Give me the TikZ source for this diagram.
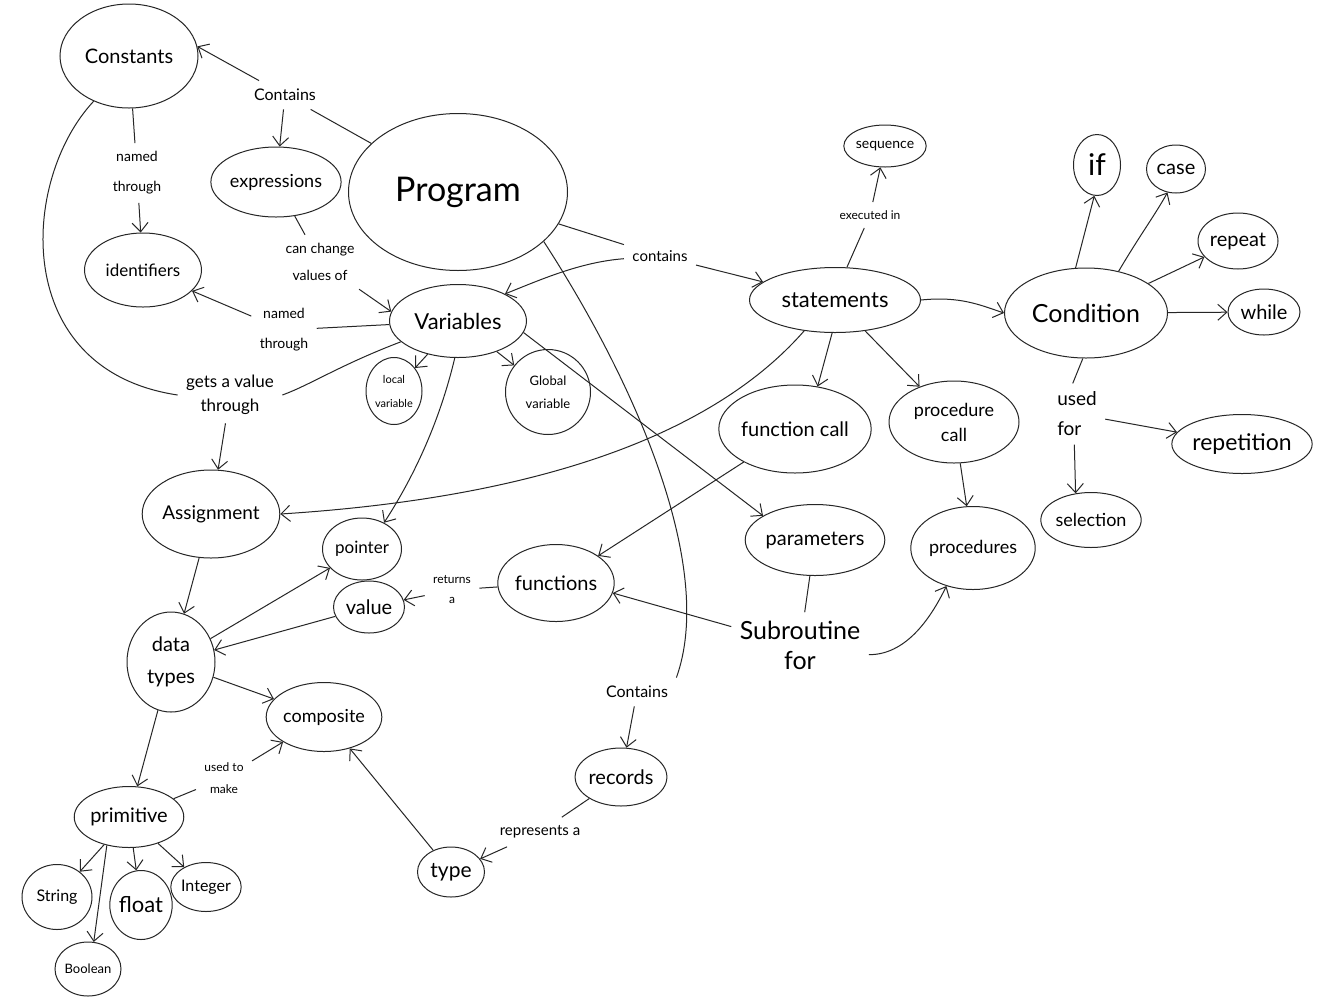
\documentclass[tikz,border=0pt]{standalone}
\usepackage{fontspec}
\setmainfont{Lato}
\usetikzlibrary{shapes.geometric,arrows.meta}
\newcommand\hw[2]{\fontsize{#1}{#2}\selectfont}
\begin{document}
\begin{tikzpicture}[x=0.5pt,y=-0.5pt,line width=0.5pt,draw=black!85,
  blob/.style 2 args={ellipse,draw,inner sep=0pt,align=center,
    minimum width=#1*0.5pt,minimum height=#2*0.5pt},
  lbl/.style={align=center,inner sep=4pt},
  arr/.style={-{Straight Barb[length=4.5pt,width=8pt]}}]
\fill[white] (0,0) rectangle (1322,1002);
\useasboundingbox (0,0) rectangle (1322,1002);

% concepts
\node[blob={138}{104},font=\hw{10}{12}] (const) at (129,56) {Constants};
\node[blob={114}{70},font=\hw{9}{11}] (expr) at (276,182) {expressions};
\node[blob={219}{157},font=\hw{17}{20}] (prog) at (458,192) {Program};
\node[blob={117}{74},font=\hw{8.5}{10}] (ident) at (143,270) {identifiers};
\node[blob={137}{73},font=\hw{11}{13}] (var) at (458,321) {Variables};
\node[blob={56}{67},font=\hw{5.5}{12}] (local) at (394,391) {local\\variable};
\node[blob={85}{85},font=\hw{6.5}{11.5}] (global) at (548,392) {Global\\variable};
\node[blob={133}{88},font=\hw{9.5}{12}] (assign) at (211,514) {Assignment};
\node[blob={79}{62},font=\hw{8.5}{10}] (pointer) at (362,549) {pointer};
\node[blob={71}{52},font=\hw{10}{12}] (value) at (369,607) {value};
\node[blob={115}{77},font=\hw{10}{12}] (func) at (556,583) {functions};
\node[blob={88}{100},font=\hw{10}{16}] (dtypes) at (171,662) {data\\types};
\node[blob={115}{69},font=\hw{9}{11}] (comp) at (324,717) {composite};
\node[blob={106}{61},font=\hw{10}{12}] (prim) at (129,817) {primitive};
\node[blob={70}{65},font=\hw{8}{10}] (string) at (57,897) {String};
\node[blob={66}{54},font=\hw{6.5}{8}] (bool) at (88,969) {Boolean};
\node[blob={58}{69},font=\hw{11}{13}] (float) at (141,905) {float};
\node[blob={64}{49},font=\hw{8}{10}] (integer) at (206,887) {Integer};
\node[blob={67}{50},font=\hw{10.5}{12}] (type) at (451,872) {type};
\node[blob={90}{58},font=\hw{10}{12}] (records) at (621,777) {records};
\node[blob={139}{71},font=\hw{10}{12}] (param) at (815,540) {parameters};
\node[blob={117}{83},font=\hw{9}{11}] (procs) at (973,548) {procedures};
\node[blob={146}{88},font=\hw{10}{12}] (fcall) at (795,429) {function call};
\node[blob={130}{82},font=\hw{9}{12.5}] (pcall) at (954,422) {procedure\\call};
\node[blob={171}{65},font=\hw{11}{13}] (stmt) at (835,300) {statements};
\node[blob={74}{42},font=\hw{7}{9}] (seq) at (885,146) {sequence};
\node[blob={163}{90},font=\hw{12.5}{15}] (cond) at (1086,313) {Condition};
\node[blob={47}{61},font=\hw{15}{17}] (if) at (1097,165) {if};
\node[blob={59}{48},font=\hw{10}{12}] (case) at (1176,169) {case};
\node[blob={80}{56},font=\hw{10}{12}] (repeat) at (1238,241) {repeat};
\node[blob={72}{46},font=\hw{10}{12}] (while) at (1264,312) {while};
\node[blob={130}{59},font=\hw{11.5}{14}] (rep) at (1242,444) {repetition};
\node[blob={94}{55},font=\hw{9}{11}] (sel) at (1091,520) {selection};

% link phrases
\node[lbl,font=\hw{8}{10}] (has1) at (285,95) {Contains};
\node[lbl,font=\hw{7}{15}] (named1) at (137,173) {named\\through};
\node[lbl,font=\hw{7}{13.5}] (canchange) at (320,262) {can change\\values of};
\node[lbl,font=\hw{7}{15}] (named2) at (284,330) {named\\through};
\node[lbl,font=\hw{8.5}{12}] (gets) at (230,395) {gets a value\\through};
\node[lbl,font=\hw{7.5}{9}] (has2) at (660,256) {contains};
\node[lbl,font=\hw{8}{10}] (has3) at (637,692) {Contains};
\node[lbl,font=\hw{6}{8}] (exec) at (870,215) {executed in};
\node[lbl,align=left,font=\hw{9.5}{15}] (usedfor) at (1077,414) {used\\for};
\node[lbl,font=\hw{12.5}{15}] (sub) at (800,645) {Subroutine\\for};
\node[lbl,font=\hw{6}{10}] (returns) at (452,590) {returns\\a};
\node[lbl,font=\hw{6}{11}] (usedto) at (224,778) {used to\\make};
\node[lbl,font=\hw{7.5}{9}] (repr) at (540,832) {represents a};

% connections
\draw (prog) -- (has1);
\draw[arr] (has1) -- (const.8);
\draw[arr] (has1) -- (expr);
\draw (const) -- (named1);
\draw[arr] (named1) -- (ident);
\draw (const.232) .. controls (20,180) and (10,370) .. (gets.west);
\draw (var.200) .. controls (340,365) and (310,385) .. (gets.east);
\draw[arr] (gets) -- (assign);
\draw (expr) -- (canchange);
\draw[arr] (canchange) -- (var.172);
\draw (var) -- (named2);
\draw[arr] (named2) -- (ident);
\draw (prog) -- (has2);
\draw[arr] (has2) -- (stmt);
\draw[arr] (has2) .. controls (580,262) and (540,280) .. (var.30);
\draw[arr] (var) -- (local);
\draw[arr] (var) -- (global);
\draw[arr] (var.265) .. controls (440,420) and (415,475) .. (pointer.50);
\draw[arr] (var.-10) -- (param.155);
\draw (prog.-30) .. controls (640,390) and (715,570) .. (has3.north east);
\draw[arr] (has3) -- (records);
\draw[arr] (stmt.225) .. controls (700,450) and (500,500) .. (assign.east);
\draw[arr] (stmt.265) -- (fcall.62);
\draw[arr] (stmt) -- (pcall);
\draw (stmt.70) -- (exec);
\draw[arr] (exec) -- (seq);
\draw[arr] (stmt.east) .. controls (960,296) and (980,305) .. (cond.west);
\draw[arr] (cond.103) -- (if.265);
\draw[arr] (cond.52) .. controls (1140,235) and (1155,215) .. (case.250);
\draw[arr] (cond) -- (repeat);
\draw[arr] (cond) -- (while);
\draw (cond.266) -- (usedfor.98);
\draw[arr] (usedfor.265) -- (sel.120);
\draw[arr] (usedfor) -- (rep);
\draw[arr] (fcall) -- (func);
\draw[arr] (pcall) -- (procs);
\draw (param) -- (sub);
\draw[arr] (sub.165) -- (func.-10);
\draw[arr] (sub.-8) .. controls (905,655) and (930,620) .. (procs.235);
\draw (func) -- (returns);
\draw[arr] (returns) -- (value);
\draw[arr] (value) -- (dtypes);
\draw[arr] (dtypes) -- (pointer);
\draw[arr] (assign) -- (dtypes);
\draw[arr] (dtypes) -- (comp);
\draw[arr] (dtypes) -- (prim);
\draw (prim) -- (usedto);
\draw[arr] (usedto) -- (comp);
\draw[arr] (prim) -- (string);
\draw[arr] (prim.232) -- (bool.78);
\draw[arr] (prim) -- (float);
\draw[arr] (prim) -- (integer);
\draw (records) -- (repr);
\draw[arr] (repr) -- (type);
\draw[arr] (type) -- (comp);
\end{tikzpicture}
\end{document}
